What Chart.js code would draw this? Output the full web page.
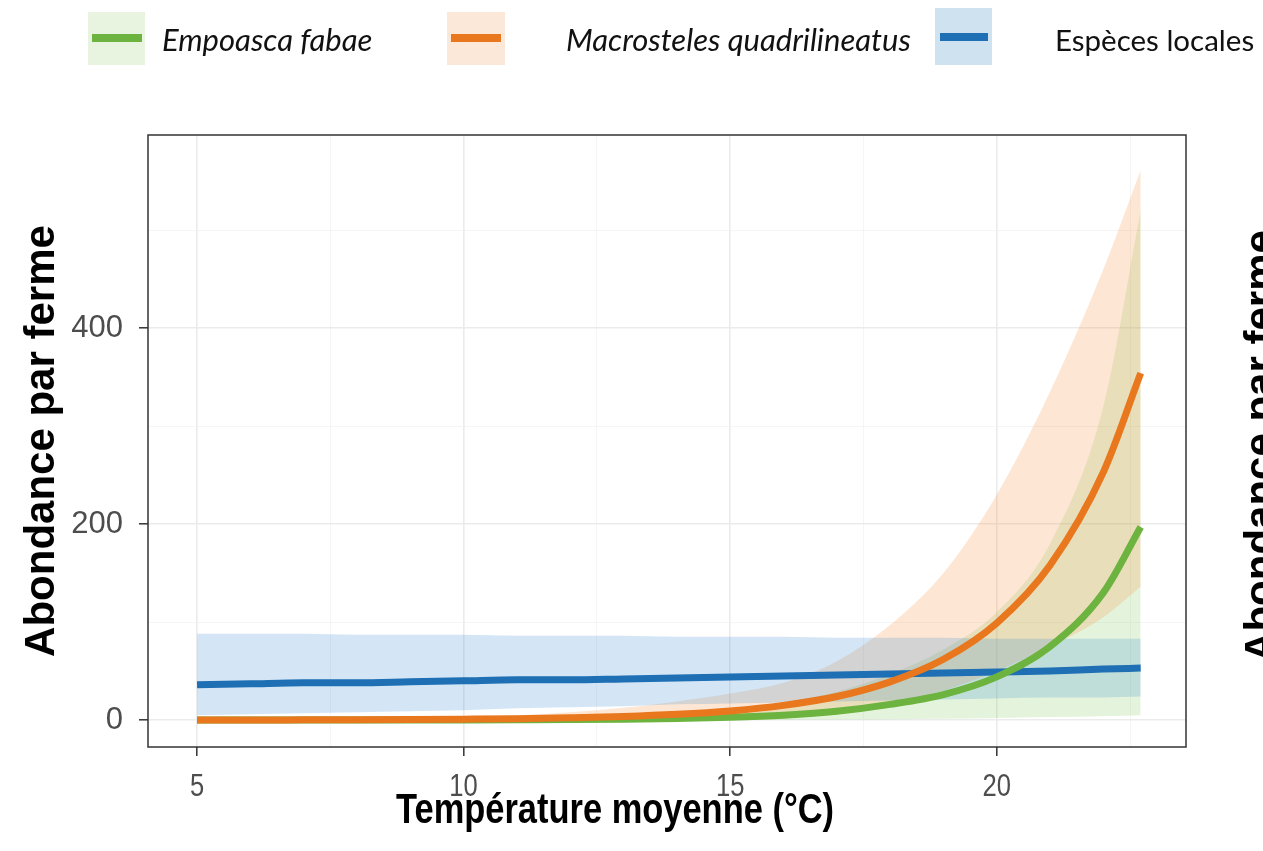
<!DOCTYPE html>
<html>
<head>
<meta charset="utf-8">
<script src="https://cdn.jsdelivr.net/npm/chart.js@4.4.0/dist/chart.umd.min.js"></script>
<style>
  html, body { margin: 0; padding: 0; background: #fff; overflow: hidden; }
  #wrap { position: relative; width: 1263px; height: 851px; overflow: hidden; }
  canvas { position: absolute; left: 0; top: 0; }
  .box { position: absolute; }
  .bar { position: absolute; height: 8px; }
  .lab { position: absolute; font-family: Lato, 'Open Sans', sans-serif; font-size: 31px; color: #111; line-height: 1; white-space: nowrap; }
  .it { font-style: italic; }
  #ghost { position: absolute; width: 500px; height: 50px; line-height: 50px; text-align: center;
           font: bold 42px 'Liberation Sans', Arial, sans-serif; color: #000;
           left: 1011px; top: 421px; transform: rotate(-90deg); white-space: nowrap; }
</style>
</head>
<body>
<div id="wrap">
  <canvas id="chart" width="1263" height="851"></canvas>

  <!-- legend -->
  <div class="box" style="left:88px;top:12px;width:57px;height:53px;background:rgba(110,185,65,0.16)"></div>
  <div class="bar" style="left:92px;top:34px;width:50px;background:#6db33f"></div>
  <div class="lab it" style="left:162px;top:24px">Empoasca fabae</div>

  <div class="box" style="left:447px;top:12px;width:58px;height:53px;background:rgba(240,140,60,0.2)"></div>
  <div class="bar" style="left:451px;top:34px;width:50px;background:#e8771e"></div>
  <div class="lab it" style="left:566px;top:24px">Macrosteles quadrilineatus</div>

  <div class="box" style="left:935px;top:8px;width:57px;height:57px;background:#cfe2f0"></div>
  <div class="bar" style="left:940px;top:33px;width:48px;background:#1f6fb4"></div>
  <div class="lab" style="left:1055px;top:25px;font-size:29.5px">Espèces locales</div>

  <!-- axis title of the next panel, cut by the right edge -->
  <div id="ghost">Abondance par ferme</div>
</div>

<script>
// temperatures (°C) where the curves were read
const temps = [5, 6, 7, 8, 9, 10, 11, 12, 13, 14, 15, 16, 17, 18, 19, 20, 21, 22, 22.7];

// Empoasca fabae
const fabaeMean  = [0.01, 0.02, 0.03, 0.05, 0.1, 0.15, 0.3, 0.5, 0.9, 1.6, 2.8, 5, 9, 16, 26, 44, 75, 130, 197];
const fabaeLow   = [0, 0, 0, 0, 0, 0, 0, 0, 0, 0.1, 0.2, 0.3, 0.5, 0.8, 1.2, 2, 3, 4, 5];
const fabaeHigh  = [0.1, 0.1, 0.2, 0.3, 0.5, 0.8, 1.3, 2.2, 3.8, 6.5, 11, 18, 29, 47, 72, 110, 180, 320, 520];

// Macrosteles quadrilineatus
const macroMean  = [0.1, 0.1, 0.2, 0.3, 0.5, 0.9, 1.4, 2.3, 3.6, 5.8, 9.3, 15, 24, 39, 62, 99, 158, 253, 354];
const macroLow   = [0.02, 0.03, 0.05, 0.1, 0.15, 0.3, 0.5, 0.9, 1.5, 2.5, 4, 7, 11, 18, 30, 50, 75, 105, 136];
const macroHigh  = [0.4, 0.5, 0.8, 1.2, 2, 3.2, 5, 8, 12.5, 19, 27, 38, 60, 97, 150, 230, 335, 460, 561];

// Espèces locales
const localMean  = [36, 37, 38, 38, 39, 40, 41, 41, 42, 43, 44, 45, 46, 47, 48, 49, 50, 52, 53];
const localLow   = [5, 6, 7, 8, 9, 10, 12, 13, 14, 16, 17, 18, 19, 20, 21, 22, 23, 23, 24];
const localHigh  = [88, 88, 88, 87, 87, 87, 86, 86, 86, 85, 85, 85, 84, 84, 84, 83, 83, 83, 83];

// axes
const xTicks = [5, 7.5, 10, 12.5, 15, 17.5, 20, 22.5];
const xLabels = [5, 10, 15, 20];
const yTicks = [0, 100, 200, 300, 400, 500];
const xTitle = 'Température moyenne (°C)';

function pts(arr) {
  return temps.map((t, i) => ({ x: t, y: arr[i] }));
}

function band(arr, fill, color, order) {
  return {
    data: pts(arr),
    borderWidth: 0,
    pointRadius: 0,
    fill: fill,
    backgroundColor: color,
    cubicInterpolationMode: 'monotone',
    order: order
  };
}

function curve(arr, color, order) {
  return {
    data: pts(arr),
    borderColor: color,
    borderWidth: 7,
    pointRadius: 0,
    fill: false,
    cubicInterpolationMode: 'monotone',
    order: order
  };
}

// box round the panel
const panelBorder = {
  id: 'panelBorder',
  afterDraw(chart) {
    const { ctx, chartArea: a } = chart;
    ctx.save();
    ctx.strokeStyle = '#333';
    ctx.lineWidth = 1.5;
    ctx.strokeRect(a.left, a.top, a.right - a.left, a.bottom - a.top);
    ctx.restore();
  }
};

// x labels and title in a narrow face (Arial squeezed like the original)
const narrowX = {
  id: 'narrowX',
  afterDraw(chart) {
    const { ctx } = chart;
    const sx = chart.scales.x;
    ctx.save();
    ctx.fillStyle = '#4d4d4d';
    ctx.textAlign = 'center';
    ctx.textBaseline = 'alphabetic';
    ctx.font = "32px 'Liberation Sans', Arial, sans-serif";
    xLabels.forEach(v => {
      ctx.save();
      ctx.translate(sx.getPixelForValue(v), sx.top + 49);
      ctx.scale(0.8, 1);
      ctx.fillText(String(v), 0, 0);
      ctx.restore();
    });
    ctx.fillStyle = '#000';
    ctx.font = "bold 42px 'Liberation Sans', Arial, sans-serif";
    ctx.translate((sx.left + sx.right) / 2 - 52, sx.top + 76);
    ctx.scale(0.82, 1);
    ctx.fillText(xTitle, 0, 0);
    ctx.restore();
  }
};

const ctx = document.getElementById('chart').getContext('2d');
new Chart(ctx, {
  type: 'line',
  data: {
    datasets: [
      band(fabaeLow, false, 'transparent', 16),
      band(fabaeHigh, '-1', 'rgba(120,200,80,0.2)', 15),
      band(macroLow, false, 'transparent', 14),
      band(macroHigh, '-1', 'rgba(245,140,60,0.22)', 13),
      band(localLow, false, 'transparent', 12),
      band(localHigh, '-1', 'rgba(60,140,210,0.22)', 11),
      curve(localMean, '#1f6fb4', 3),
      curve(fabaeMean, '#6db33f', 2),
      curve(macroMean, '#e8771e', 1)
    ]
  },
  options: {
    responsive: false,
    animation: false,
    devicePixelRatio: 1,
    layout: { padding: { top: 135, right: 77, left: 0, bottom: 0 } },
    plugins: { legend: { display: false }, tooltip: { enabled: false } },
    scales: {
      x: {
        type: 'linear',
        min: 4.08,
        max: 23.55,
        afterBuildTicks: axis => { axis.ticks = xTicks.map(v => ({ value: v })); },
        afterFit: axis => { axis.height = 104; },
        border: { display: false },
        grid: {
          color: c => (c.tick && c.tick.value % 5 === 0 ? '#ebebeb' : '#f3f3f3'),
          lineWidth: c => (c.tick && c.tick.value % 5 === 0 ? 1.6 : 0.8),
          tickColor: c => (c.tick && c.tick.value % 5 === 0 ? '#333' : 'rgba(0,0,0,0)'),
          tickLength: 9,
          tickWidth: 1.5
        },
        ticks: { display: false, autoSkip: false, maxRotation: 0 },
        title: { display: false }
      },
      y: {
        type: 'linear',
        min: -27.5,
        max: 597,
        afterBuildTicks: axis => { axis.ticks = yTicks.map(v => ({ value: v })); },
        afterFit: axis => { axis.width = 148; },
        border: { display: false },
        grid: {
          color: c => (c.tick && c.tick.value % 200 === 0 ? '#ebebeb' : '#f3f3f3'),
          lineWidth: c => (c.tick && c.tick.value % 200 === 0 ? 1.6 : 0.8),
          tickColor: c => (c.tick && c.tick.value % 200 === 0 ? '#333' : 'rgba(0,0,0,0)'),
          tickLength: 9,
          tickWidth: 1.5
        },
        ticks: {
          autoSkip: false,
          padding: 16,
          color: '#4d4d4d',
          font: { family: "'Liberation Sans', Arial, sans-serif", size: 31 },
          callback: v => (v % 200 === 0 ? v : '')
        },
        title: {
          display: true,
          text: 'Abondance par ferme',
          color: '#000',
          padding: { top: 17, bottom: 0 },
          font: { family: "'Liberation Sans', Arial, sans-serif", size: 42, weight: 'bold' }
        }
      }
    }
  },
  plugins: [panelBorder, narrowX]
});
</script>
</body>
</html>
